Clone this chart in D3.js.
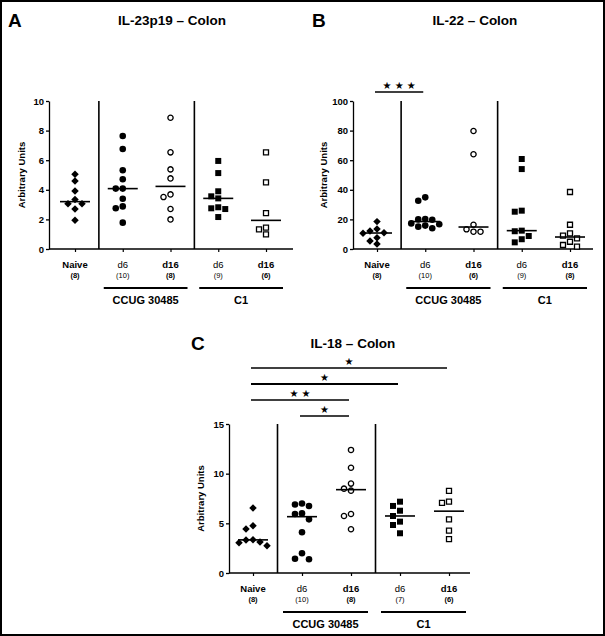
<!DOCTYPE html>
<html><head><meta charset="utf-8">
<script src="https://cdn.jsdelivr.net/npm/d3@7"></script>
<style>
html,body{margin:0;padding:0;background:#fff;}
text{font-family:"Liberation Sans",Arial,sans-serif;fill:#000;}
</style></head>
<body>
<svg id="chart" width="605" height="636"></svg>
<script>
// ---------- DATA ----------
const categories = ["Naive", "d6", "d16", "d6", "d16"];
const groupLabels = ["CCUG 30485", "C1"];
const markerKinds = ["diamond", "circle", "openCircle", "square", "openSquare"];

const titleA = "IL-23p19 \u2013 Colon";
const nA = ["(8)", "(10)", "(8)", "(9)", "(6)"];
const ticksA = [0, 2, 4, 6, 8, 10];
const naiveA = [5.05, 4.6, 3.92, 3.35, 3.05, 3.05, 2.7, 1.95];
const ccugD6A = [7.63, 6.76, 5.32, 4.71, 4.08, 4.08, 3.4, 2.88, 2.75, 1.78];
const ccugD16A = [8.87, 6.53, 5.38, 4.77, 3.69, 3.51, 2.7, 2.0];
const c1D6A = [5.95, 5.13, 3.9, 3.56, 3.42, 2.82, 2.75, 2.7, 2.16];
const c1D16A = [6.53, 4.5, 2.43, 1.44, 1.33, 0.99];

const titleB = "IL-22 \u2013 Colon";
const nB = ["(8)", "(10)", "(6)", "(9)", "(8)"];
const ticksB = [0, 20, 40, 60, 80, 100];
const naiveB = [18.5, 13.5, 12.2, 11.0, 10.6, 7.6, 5.4, 3.4];
const ccugD6B = [34.9, 32.6, 20.3, 20.0, 19.8, 17.3, 16.7, 15.8, 15.1, 14.0];
const ccugD16B = [79.7, 64.0, 16.4, 13.3, 11.7, 11.7];
const c1D6B = [60.8, 54.0, 25.9, 25.2, 12.4, 12.0, 8.8, 6.6, 4.5];
const c1D16B = [38.5, 16.4, 10.6, 9.0, 7.2, 4.9, 2.7, 1.6];
const sigB = [{from: 0, to: 1, label: "\u2605 \u2605 \u2605"}];

const titleC = "IL-18 \u2013 Colon";
const nC = ["(8)", "(10)", "(8)", "(7)", "(6)"];
const ticksC = [0, 5, 10, 15];
const naiveC = [6.55, 4.76, 4.43, 3.35, 3.32, 3.12, 3.05, 2.75];
const ccugD6C = [7.0, 6.9, 6.75, 6.0, 5.94, 5.4, 4.1, 1.98, 1.44, 1.38];
const ccugD16C = [12.39, 10.6, 9.0, 8.49, 8.29, 5.94, 5.74, 4.4];
const c1D6C = [7.18, 6.75, 6.27, 5.74, 5.17, 4.83, 4.0];
const c1D16C = [8.26, 7.18, 7.05, 5.4, 4.26, 3.42];
const sigC = [
  {from: 0, to: 4, label: "\u2605"},
  {from: 0, to: 3, label: "\u2605"},
  {from: 0, to: 2, label: "\u2605 \u2605"},
  {from: 1, to: 2, label: "\u2605"}
];

// ---------- LAYOUT ----------
const panels = [
  {letter: "A", title: titleA, ns: nA, ticks: ticksA, series: [naiveA, ccugD6A, ccugD16A, c1D6A, c1D16A], sig: [],
   axisX: [49, 293], centers: [75, 266], yRange: [249, 101], titleX: 172, titleY: 20, letterX: 8, letterY: 20, ytitleX: 22, sigY0: 0},
  {letter: "B", title: titleB, ns: nB, ticks: ticksB, series: [naiveB, ccugD6B, ccugD16B, c1D6B, c1D16B], sig: sigB,
   axisX: [353, 593], centers: [377, 570], yRange: [249, 101], titleX: 475, titleY: 20, letterX: 312, letterY: 20, ytitleX: 324, sigY0: 92},
  {letter: "C", title: titleC, ns: nC, ticks: ticksC, series: [naiveC, ccugD6C, ccugD16C, c1D6C, c1D16C], sig: sigC,
   axisX: [229, 470], centers: [253, 449], yRange: [573, 424], titleX: 353, titleY: 343, letterX: 191, letterY: 343, ytitleX: 201, sigY0: 368}
];

const svg = d3.select("#chart");
svg.append("rect").attr("x", 0).attr("y", 0).attr("width", 605).attr("height", 636).attr("fill", "#fff");
svg.append("rect").attr("x", 1).attr("y", 1).attr("width", 603).attr("height", 634)
  .attr("fill", "none").attr("stroke", "#000").attr("stroke-width", 2);

function dodge(vals, y, step, minDist) {
  const placed = [];
  const order = vals.map((v, i) => ({v, i})).sort((a, b) => b.v - a.v);
  const out = new Array(vals.length);
  order.forEach(({v, i}) => {
    const py = y(v);
    for (let k = 0; k < 20; k++) {
      const m = k === 0 ? 0 : (k % 2 === 1 ? -Math.ceil(k / 2) : Math.ceil(k / 2));
      const dx = m * step;
      const ok = placed.every(p => Math.hypot(p.dx - dx, p.py - py) >= minDist);
      if (ok) { placed.push({dx, py}); out[i] = {v, dx}; break; }
    }
  });
  return out;
}

function drawMarker(g, kind, x, yv) {
  if (kind === "diamond") {
    g.append("path").attr("d", d3.symbol(d3.symbolSquare, 28)())
      .attr("transform", `translate(${x},${yv}) rotate(45)`).attr("fill", "#000");
  } else if (kind === "circle") {
    g.append("path").attr("d", d3.symbol(d3.symbolCircle, 34)())
      .attr("transform", `translate(${x},${yv})`).attr("fill", "#000");
  } else if (kind === "openCircle") {
    g.append("path").attr("d", d3.symbol(d3.symbolCircle, 22)())
      .attr("transform", `translate(${x},${yv})`).attr("fill", "#fff").attr("stroke", "#000").attr("stroke-width", 1.3);
  } else if (kind === "square") {
    g.append("path").attr("d", d3.symbol(d3.symbolSquare, 36)())
      .attr("transform", `translate(${x},${yv})`).attr("fill", "#000");
  } else {
    g.append("path").attr("d", d3.symbol(d3.symbolSquare, 25)())
      .attr("transform", `translate(${x},${yv})`).attr("fill", "#fff").attr("stroke", "#000").attr("stroke-width", 1.3);
  }
}

panels.forEach(p => {
  const g = svg.append("g");
  const yMax = p.ticks[p.ticks.length - 1];
  const y = d3.scaleLinear().domain([0, yMax]).range(p.yRange);
  const idx = d3.range(categories.length);
  const x = d3.scalePoint().domain(idx).range(p.centers);
  const y0 = y(0), yT = y(yMax);

  // letter & title
  g.append("text").attr("x", p.letterX).attr("y", p.letterY).attr("dy", "0.35em")
    .attr("font-size", 19).attr("font-weight", "bold").text(p.letter);
  g.append("text").attr("x", p.titleX).attr("y", p.titleY).attr("dy", "0.35em").attr("text-anchor", "middle")
    .attr("font-size", 13.5).attr("font-weight", "bold").text(p.title);

  // y axis
  const ya = g.append("g").attr("transform", `translate(${p.axisX[0]},0)`)
    .call(d3.axisLeft(y).tickValues(p.ticks).tickSize(3).tickSizeOuter(0).tickPadding(2));
  ya.selectAll("text").attr("font-size", 9.5).attr("font-weight", "bold").style("font-family", '"Liberation Sans",Arial,sans-serif');
  ya.selectAll("path,line").attr("stroke", "#000").attr("stroke-width", 1.3);

  g.append("text").attr("transform", `translate(${p.ytitleX},${(y0 + yT) / 2}) rotate(-90)`)
    .attr("text-anchor", "middle").attr("dy", "0.35em").attr("font-size", 9.5).attr("font-weight", "bold").text("Arbitrary Units");

  // x axis
  g.append("line").attr("x1", p.axisX[0]).attr("x2", p.axisX[1]).attr("y1", y0).attr("y2", y0)
    .attr("stroke", "#000").attr("stroke-width", 1.3);
  const xa = g.append("g").attr("transform", `translate(0,${y0})`)
    .call(d3.axisBottom(x).tickSize(3).tickFormat(""));
  xa.select(".domain").remove();
  xa.selectAll("line").attr("stroke", "#000").attr("stroke-width", 1.2);

  // separators
  [[0, 1], [2, 3]].forEach(([a, b]) => {
    const sx = (x(a) + x(b)) / 2;
    g.append("line").attr("x1", sx).attr("x2", sx).attr("y1", y0).attr("y2", yT)
      .attr("stroke", "#000").attr("stroke-width", 1.6);
  });

  // category labels
  idx.forEach(i => {
    const w = categories[i] === "d6" ? "normal" : "bold";
    g.append("text").attr("x", x(i)).attr("y", y0 + 16).attr("dy", "0.35em").attr("text-anchor", "middle")
      .attr("font-size", 9.5).attr("font-weight", w).text(categories[i]);
    g.append("text").attr("x", x(i)).attr("y", y0 + 26).attr("dy", "0.35em").attr("text-anchor", "middle")
      .attr("font-size", 7.5).attr("font-weight", w).text(p.ns[i]);
  });

  // group lines & labels
  [[1, 2], [3, 4]].forEach(([a, b], gi) => {
    const xa0 = x(a) - 19, xb1 = x(b) + 17;
    g.append("line").attr("x1", xa0).attr("x2", xb1).attr("y1", y0 + 39).attr("y2", y0 + 39)
      .attr("stroke", "#000").attr("stroke-width", 2);
    g.append("text").attr("x", (xa0 + xb1) / 2).attr("y", y0 + 51).attr("dy", "0.35em").attr("text-anchor", "middle")
      .attr("font-size", 11).attr("font-weight", "bold").text(groupLabels[gi]);
  });

  // points & medians
  p.series.forEach((vals, i) => {
    const pts = dodge(vals, y, 7, 6);
    pts.forEach(d => drawMarker(g, markerKinds[i], x(i) + d.dx, y(d.v)));
    const med = d3.median(vals);
    g.append("line").attr("x1", x(i) - 15).attr("x2", x(i) + 15).attr("y1", y(med)).attr("y2", y(med))
      .attr("stroke", "#000").attr("stroke-width", 1.6);
  });

  // significance bars
  p.sig.forEach((s, k) => {
    const by = p.sigY0 + k * 16;
    g.append("line").attr("x1", x(s.from) - 2).attr("x2", x(s.to) - 2).attr("y1", by).attr("y2", by)
      .attr("stroke", "#000").attr("stroke-width", k === 1 ? 2 : 1.3);
    g.append("text").attr("x", (x(s.from) + x(s.to)) / 2 - 2).attr("y", by - 7).attr("dy", "0.35em")
      .attr("text-anchor", "middle").attr("font-size", 10).style("font-family", '"DejaVu Sans",sans-serif').text(s.label);
  });
});
</script>
</body></html>
